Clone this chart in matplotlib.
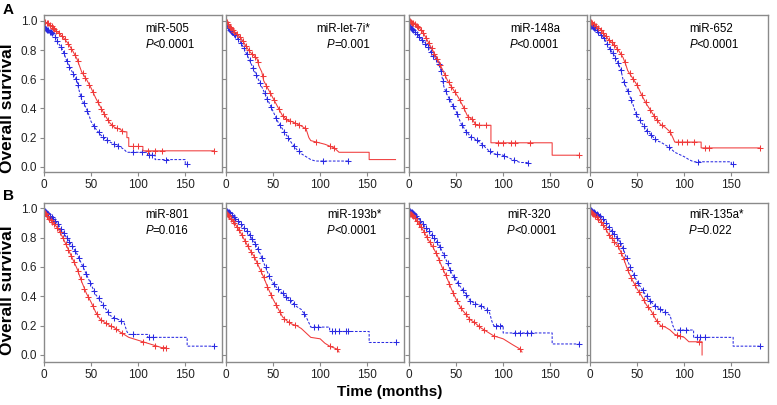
import matplotlib
matplotlib.use("Agg")
import matplotlib.pyplot as plt
import numpy as np

plt.rcParams['font.family'] = ['Liberation Sans', 'DejaVu Sans']

# ---- datos (tiempo en meses, supervivencia) ----
# Fila A
names_a = ["miR-505", "miR-let-7i*", "miR-148a", "miR-652"]
pvals_a = ["<0.0001", "=0.001", "<0.0001", "<0.0001"]
# Fila B
names_b = ["miR-801", "miR-193b*", "miR-320", "miR-135a*"]
pvals_b = ["=0.016", "<0.0001", "<0.0001", "=0.022"]

# miR-505
r505_t = [0, 2, 5, 10, 15, 20, 25, 30, 35, 40, 45, 50, 55, 60, 65, 70, 75, 80, 85, 88, 88, 90, 90, 105, 105, 180]
r505_s = [1.0, 0.99, 0.98, 0.95, 0.92, 0.89, 0.85, 0.80, 0.74, 0.65, 0.60, 0.54, 0.47, 0.41, 0.35, 0.30, 0.27, 0.26, 0.24, 0.24, 0.20, 0.20, 0.14, 0.14, 0.11, 0.11]
r505_c = [1, 3, 4, 6, 8, 10, 11, 13, 16, 19, 22, 26, 29, 33, 36, 41, 44, 48, 52, 57, 61, 64, 68, 72, 77, 83, 95, 100, 110, 118, 125, 180]
b505_t = [0, 1, 5, 10, 15, 20, 25, 30, 35, 37, 40, 45, 48, 50, 55, 60, 65, 70, 80, 85, 88, 110, 110, 118, 118, 150, 150, 152]
b505_s = [1.0, 0.95, 0.93, 0.91, 0.85, 0.80, 0.71, 0.65, 0.59, 0.53, 0.46, 0.40, 0.35, 0.31, 0.26, 0.22, 0.19, 0.17, 0.14, 0.12, 0.10, 0.10, 0.08, 0.08, 0.05, 0.05, 0.02, 0.02]
b505_c = [1, 2, 3, 4, 6, 7, 9, 12, 14, 18, 21, 24, 27, 31, 34, 36, 39, 42, 46, 53, 58, 63, 67, 74, 79, 95, 104, 112, 115, 130, 152]

# miR-let-7i*
r7i_t = [0, 5, 10, 15, 20, 25, 30, 33, 35, 38, 40, 45, 50, 55, 60, 65, 70, 80, 85, 88, 90, 105, 115, 120, 152, 152, 180]
r7i_s = [1.0, 0.95, 0.92, 0.89, 0.84, 0.79, 0.76, 0.74, 0.69, 0.65, 0.59, 0.53, 0.47, 0.41, 0.35, 0.32, 0.31, 0.28, 0.26, 0.20, 0.18, 0.155, 0.13, 0.10, 0.10, 0.05, 0.05]
r7i_c = [1, 2, 4, 5, 7, 9, 12, 15, 18, 21, 24, 28, 31, 34, 39, 43, 47, 51, 56, 60, 64, 68, 73, 78, 84, 96, 110, 115]
b7i_t = [0, 2, 5, 10, 15, 20, 25, 30, 35, 40, 45, 50, 55, 60, 65, 70, 75, 80, 85, 90, 95, 130]
b7i_s = [1.0, 0.96, 0.93, 0.90, 0.86, 0.80, 0.73, 0.66, 0.59, 0.52, 0.45, 0.38, 0.31, 0.26, 0.21, 0.16, 0.12, 0.09, 0.07, 0.05, 0.04, 0.04]
b7i_c = [1, 2, 3, 4, 5, 6, 8, 10, 13, 16, 19, 22, 25, 29, 32, 36, 41, 44, 48, 53, 57, 62, 66, 72, 77, 103, 130]

# miR-148a
r148_t = [0, 5, 10, 15, 20, 25, 30, 36, 41, 46, 52, 57, 62, 68, 71, 87, 87, 152, 152, 180]
r148_s = [1.0, 0.98, 0.96, 0.92, 0.86, 0.80, 0.74, 0.66, 0.59, 0.54, 0.48, 0.42, 0.35, 0.32, 0.285, 0.285, 0.165, 0.165, 0.08, 0.08]
r148_c = [1, 2, 3, 4, 6, 8, 10, 13, 15, 18, 21, 24, 27, 30, 33, 38, 42, 45, 49, 54, 58, 63, 67, 70, 74, 82, 95, 100, 108, 113, 128, 180]
b148_t = [0, 5, 10, 15, 20, 25, 30, 33, 35, 37, 40, 45, 50, 55, 60, 65, 70, 75, 80, 85, 90, 100, 110, 118, 126]
b148_s = [0.97, 0.93, 0.90, 0.86, 0.82, 0.77, 0.73, 0.69, 0.62, 0.55, 0.50, 0.44, 0.38, 0.30, 0.25, 0.21, 0.19, 0.17, 0.14, 0.11, 0.09, 0.08, 0.05, 0.03, 0.03]
b148_c = [1, 2, 3, 4, 6, 8, 11, 14, 17, 20, 23, 26, 29, 32, 34, 36, 39, 43, 47, 51, 56, 61, 66, 72, 78, 86, 93, 101, 112, 126]

# miR-652
r652_t = [0, 5, 10, 15, 20, 25, 30, 35, 38, 40, 45, 50, 55, 60, 65, 70, 75, 80, 85, 88, 90, 118, 118, 180]
r652_s = [1.0, 0.97, 0.95, 0.91, 0.87, 0.84, 0.80, 0.75, 0.70, 0.66, 0.61, 0.56, 0.49, 0.43, 0.38, 0.33, 0.29, 0.27, 0.24, 0.20, 0.17, 0.17, 0.13, 0.13]
r652_c = [1, 2, 4, 6, 9, 12, 14, 17, 20, 23, 26, 29, 33, 37, 42, 46, 50, 55, 59, 64, 68, 71, 76, 85, 93, 98, 103, 110, 122, 126, 180]
b652_t = [0, 5, 10, 15, 20, 25, 30, 33, 35, 40, 45, 48, 50, 55, 60, 65, 70, 75, 80, 85, 90, 100, 105, 110, 150, 150, 152]
b652_s = [0.97, 0.95, 0.92, 0.88, 0.82, 0.77, 0.71, 0.66, 0.60, 0.52, 0.44, 0.38, 0.35, 0.30, 0.25, 0.22, 0.18, 0.17, 0.15, 0.13, 0.10, 0.07, 0.05, 0.035, 0.035, 0.02, 0.02]
b652_c = [1, 2, 3, 4, 5, 7, 9, 12, 15, 18, 21, 24, 27, 30, 33, 36, 40, 44, 49, 53, 57, 61, 65, 69, 84, 115, 152]

# miR-801
r801_t = [0, 5, 10, 15, 20, 25, 30, 35, 40, 45, 50, 55, 60, 65, 70, 75, 80, 85, 90, 100, 110, 120, 125, 130]
r801_s = [0.98, 0.93, 0.90, 0.86, 0.80, 0.73, 0.66, 0.59, 0.50, 0.42, 0.36, 0.29, 0.24, 0.22, 0.20, 0.185, 0.16, 0.14, 0.12, 0.10, 0.08, 0.06, 0.05, 0.05]
r801_c = [1, 2, 3, 5, 7, 9, 11, 14, 17, 20, 23, 26, 29, 32, 36, 39, 43, 47, 52, 56, 61, 66, 71, 76, 83, 105, 118, 126, 130]
b801_t = [0, 5, 10, 15, 20, 25, 30, 35, 40, 45, 50, 55, 60, 65, 70, 75, 80, 85, 88, 90, 110, 110, 152, 152, 180]
b801_s = [0.99, 0.95, 0.93, 0.89, 0.84, 0.79, 0.74, 0.69, 0.62, 0.55, 0.48, 0.41, 0.37, 0.32, 0.27, 0.25, 0.24, 0.22, 0.16, 0.14, 0.14, 0.12, 0.12, 0.06, 0.06]
b801_c = [1, 2, 3, 4, 6, 8, 10, 12, 15, 18, 21, 24, 27, 30, 33, 37, 41, 45, 49, 53, 58, 63, 68, 74, 82, 94, 112, 116, 180]

# miR-193b*
r193_t = [0, 5, 10, 15, 20, 25, 30, 35, 40, 45, 50, 55, 60, 65, 70, 75, 80, 85, 90, 100, 105, 110, 118, 120]
r193_s = [0.97, 0.93, 0.89, 0.84, 0.78, 0.72, 0.67, 0.60, 0.53, 0.45, 0.38, 0.32, 0.26, 0.23, 0.21, 0.20, 0.18, 0.15, 0.12, 0.11, 0.08, 0.06, 0.04, 0.02]
r193_c = [1, 2, 3, 5, 7, 9, 12, 14, 17, 20, 23, 27, 30, 33, 37, 40, 44, 48, 53, 57, 62, 67, 73, 110, 118]
b193_t = [0, 5, 10, 15, 20, 25, 30, 35, 40, 45, 50, 55, 60, 65, 70, 75, 80, 85, 88, 90, 110, 110, 152, 152, 180]
b193_s = [0.99, 0.96, 0.93, 0.90, 0.86, 0.82, 0.77, 0.71, 0.63, 0.55, 0.49, 0.45, 0.42, 0.39, 0.36, 0.33, 0.31, 0.26, 0.22, 0.19, 0.19, 0.16, 0.16, 0.085, 0.085]
b193_c = [1, 2, 3, 4, 6, 8, 10, 13, 16, 19, 22, 25, 28, 31, 34, 38, 42, 46, 51, 55, 60, 64, 68, 72, 83, 93, 98, 113, 116, 120, 127, 130, 180]

# miR-320
r320_t = [0, 5, 10, 15, 20, 25, 30, 35, 40, 45, 50, 55, 60, 65, 70, 75, 80, 85, 90, 100, 105, 110, 118, 120]
r320_s = [0.97, 0.94, 0.90, 0.85, 0.79, 0.74, 0.68, 0.60, 0.53, 0.45, 0.38, 0.32, 0.28, 0.24, 0.22, 0.19, 0.17, 0.15, 0.13, 0.11, 0.09, 0.07, 0.04, 0.02]
r320_c = [1, 2, 3, 4, 6, 8, 11, 13, 16, 19, 22, 25, 29, 32, 36, 39, 43, 47, 51, 55, 60, 64, 69, 74, 80, 90, 118]
b320_t = [0, 5, 10, 15, 20, 25, 30, 35, 40, 45, 50, 55, 60, 65, 70, 75, 80, 85, 88, 90, 100, 100, 152, 152, 180]
b320_s = [0.99, 0.96, 0.93, 0.89, 0.85, 0.81, 0.77, 0.71, 0.64, 0.56, 0.51, 0.46, 0.42, 0.37, 0.35, 0.34, 0.32, 0.30, 0.23, 0.20, 0.20, 0.15, 0.15, 0.075, 0.075]
b320_c = [1, 2, 3, 4, 5, 7, 9, 12, 15, 18, 21, 24, 27, 30, 33, 37, 41, 44, 48, 52, 57, 61, 65, 70, 76, 83, 92, 97, 113, 118, 125, 130, 180]

# miR-135a*
r135_t = [0, 5, 10, 15, 20, 25, 30, 35, 40, 45, 50, 55, 60, 65, 70, 75, 80, 85, 90, 100, 105, 119, 119]
r135_s = [0.98, 0.95, 0.92, 0.88, 0.82, 0.78, 0.74, 0.67, 0.58, 0.51, 0.45, 0.40, 0.34, 0.30, 0.24, 0.20, 0.19, 0.17, 0.14, 0.12, 0.09, 0.09, 0.0]
r135_c = [1, 2, 3, 5, 7, 9, 12, 14, 17, 20, 23, 26, 30, 33, 36, 40, 44, 48, 52, 57, 62, 67, 71, 76, 92, 96, 116]
b135_t = [0, 5, 10, 15, 20, 25, 30, 35, 40, 45, 50, 55, 60, 65, 70, 75, 80, 85, 88, 90, 110, 110, 152, 152, 180]
b135_s = [0.99, 0.97, 0.95, 0.92, 0.87, 0.83, 0.79, 0.73, 0.64, 0.57, 0.50, 0.45, 0.40, 0.36, 0.33, 0.31, 0.29, 0.27, 0.20, 0.17, 0.17, 0.12, 0.12, 0.06, 0.06]
b135_c = [1, 2, 3, 4, 5, 7, 9, 11, 14, 17, 20, 23, 26, 29, 32, 35, 39, 43, 47, 51, 56, 60, 64, 69, 74, 80, 96, 102, 114, 117, 122, 180]

curves_a = [(r505_t, r505_s, r505_c, b505_t, b505_s, b505_c),
            (r7i_t, r7i_s, r7i_c, b7i_t, b7i_s, b7i_c),
            (r148_t, r148_s, r148_c, b148_t, b148_s, b148_c),
            (r652_t, r652_s, r652_c, b652_t, b652_s, b652_c)]
curves_b = [(r801_t, r801_s, r801_c, b801_t, b801_s, b801_c),
            (r193_t, r193_s, r193_c, b193_t, b193_s, b193_c),
            (r320_t, r320_s, r320_c, b320_t, b320_s, b320_c),
            (r135_t, r135_s, r135_c, b135_t, b135_s, b135_c)]

RED = '#F03A3A'
BLUE = '#2A2AE2'
GREY = '#8A8A8A'


def km(ax, t, s, cens, color, ls):
    ax.plot(t, s, color=color, lw=0.75, ls=ls)
    # marcas de censura sobre la curva
    ys = np.interp(cens, t, s)
    ax.plot(cens, ys, ls='none', marker='+', ms=3.8, mew=0.75, color=color)


fig = plt.figure(figsize=(7.77, 4.05), dpi=100)
W, H = 777.0, 405.0
lefts = [44, 226, 409, 590]
width = 178
rows = [(15, 172, names_a, pvals_a, curves_a, (-0.035, 1.04)),
        (203, 362, names_b, pvals_b, curves_b, (-0.048, 1.036))]
name_x = [[0.57, 0.51, 0.57, 0.56], [0.57, 0.567, 0.55, 0.556]]
p_x = [[0.57, 0.567, 0.565, 0.56], [0.57, 0.567, 0.55, 0.556]]

for r, (top, bot, names, pvals, curves, ylim) in enumerate(rows):
    for i in range(4):
        ax = fig.add_axes([lefts[i] / W, 1 - bot / H, width / W, (bot - top) / H])
        rt, rs, rc, bt, bs, bc = curves[i]
        km(ax, bt, bs, bc, BLUE, (0, (2.5, 1.5)))
        km(ax, rt, rs, rc, RED, '-')
        ax.set_xlim(0, 189)
        ax.set_ylim(*ylim)
        ax.set_xticks([0, 50, 100, 150])
        ax.set_yticks([0, 0.2, 0.4, 0.6, 0.8, 1.0])
        ax.set_yticklabels(['0.0', '0.2', '0.4', '0.6', '0.8', '1.0'])
        if i > 0:
            ax.tick_params(axis='y', labelleft=False)
        ax.tick_params(direction='out', length=3, width=0.8, color=GREY,
                       labelsize=8.5, pad=2, labelcolor='#222222')
        for sp in ax.spines.values():
            sp.set_color(GREY)
            sp.set_linewidth(1.0)
        ty = 0.91 if r == 0 else 0.925
        ax.text(name_x[r][i], ty, names[i], transform=ax.transAxes,
                fontsize=8.3, va='center', ha='left')
        ax.text(p_x[r][i], ty - 0.1, 'P', transform=ax.transAxes,
                fontsize=8.3, va='center', ha='left', style='italic')
        ax.text(p_x[r][i] + 0.04, ty - 0.1, pvals[i], transform=ax.transAxes,
                fontsize=8.3, va='center', ha='left')

fig.text(8 / W, 1 - 10 / H, 'A', fontsize=11, fontweight='bold', ha='center', va='center')
fig.text(8 / W, 1 - 196 / H, 'B', fontsize=11, fontweight='bold', ha='center', va='center')
fig.text(8 / W, 1 - 108 / H, 'Overall survival', fontsize=12.5, fontweight='bold',
         rotation=90, ha='center', va='center')
fig.text(8 / W, 1 - 290 / H, 'Overall survival', fontsize=12.5, fontweight='bold',
         rotation=90, ha='center', va='center')
fig.text(390 / W, 1 - 392 / H, 'Time (months)', fontsize=11, fontweight='bold',
         ha='center', va='center')

fig.savefig('out.png', dpi=100)
